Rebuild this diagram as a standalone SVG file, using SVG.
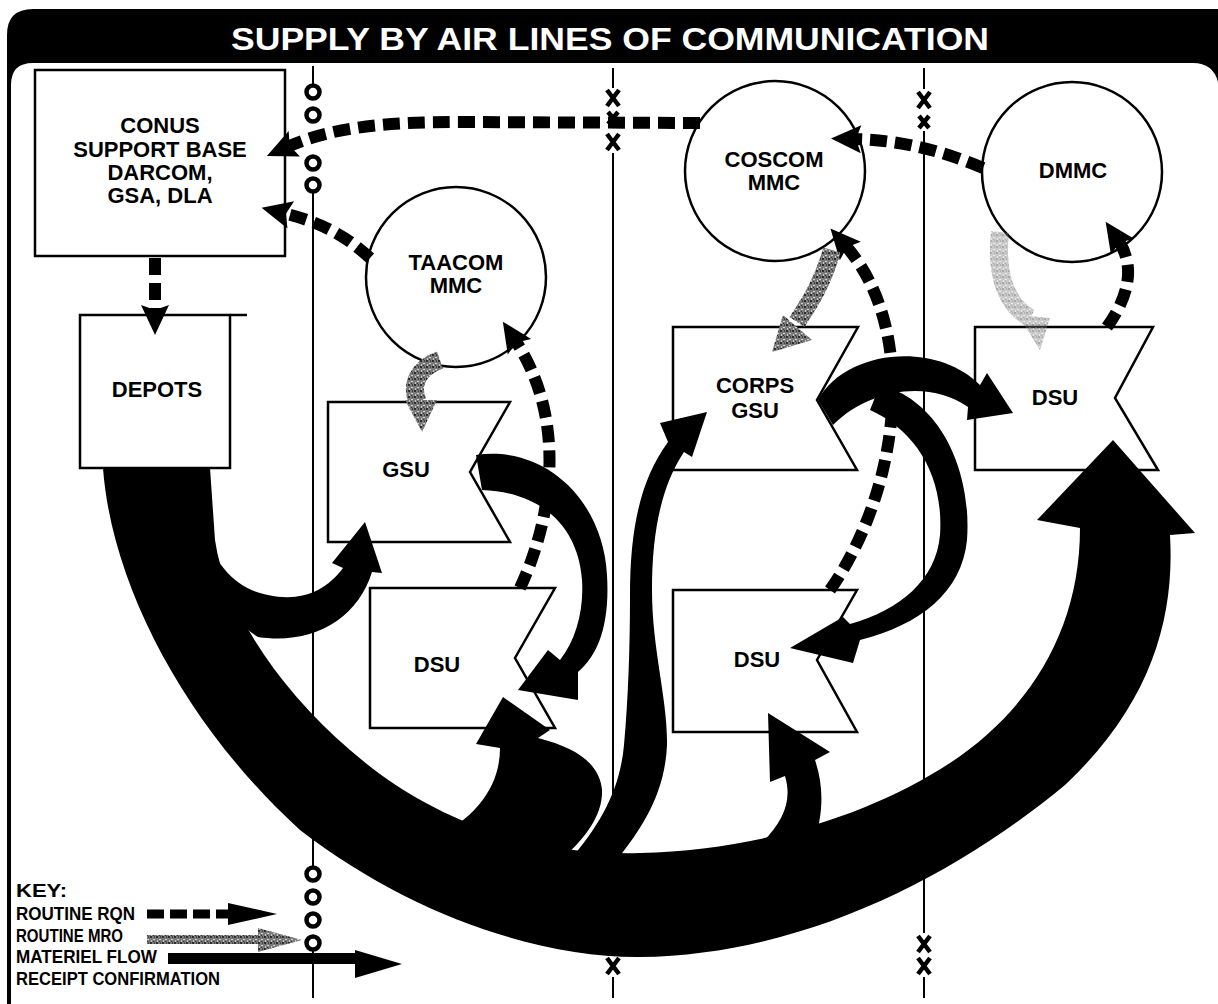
<svg xmlns="http://www.w3.org/2000/svg" width="1218" height="1004" viewBox="0 0 1218 1004">
<style>
.node rect,.node polygon,.node circle{fill:#fff;stroke:#000;stroke-width:2.5}
.lbl{font-family:"Liberation Sans",Arial,sans-serif;font-weight:bold;font-size:22px;text-anchor:middle;fill:#000}
.key{font-family:"Liberation Sans Narrow","Liberation Sans",Arial,sans-serif;font-weight:bold;font-size:18px;fill:#000}
.sep{stroke:#000;stroke-width:2;fill:none}
.ring{fill:#fff;stroke:#000;stroke-width:4.5}
.xm{stroke:#000;stroke-width:4.5;fill:none}
.rqn{fill:none;stroke:#000;stroke-width:12;stroke-dasharray:17 8}
.mro{fill:none;stroke:url(#grain);stroke-width:18}
.flow{fill:#000}
</style>
<defs>
<pattern id="grain" width="6" height="6" patternUnits="userSpaceOnUse">
<rect width="6" height="6" fill="#7a7a7a"/>
<rect x="0" y="0" width="2" height="2" fill="#2e2e2e"/>
<rect x="3" y="3" width="2" height="1" fill="#d0d0d0"/>
<rect x="4" y="0" width="1" height="2" fill="#444"/>
<rect x="1" y="4" width="1" height="2" fill="#c4c4c4"/>
<rect x="3" y="5" width="1" height="1" fill="#333"/>
</pattern>
<marker id="ah" markerUnits="userSpaceOnUse" markerWidth="40" markerHeight="32" refX="8" refY="14" orient="auto" overflow="visible">
<path d="M0,0 L30,14 L0,28 L5,14 Z" fill="#000"/>
</marker>
<path id="xbig" d="M-6,-8 L6,8 M6,-8 L-6,8"/>
<path id="xsmall" d="M-5,-6 L5,6 M5,-6 L-5,6"/>
</defs>

<!-- frame -->
<path d="M7 35 Q7 9 33 9 L1218 9 L1218 1004 L7 1004 Z" fill="#000"/>
<path d="M11 85 Q11 63 33 63 L1193 63 Q1213 63 1218 82 L1218 1004 L11 1004 Z" fill="#fff"/>
<text x="610" y="50" font-family="Liberation Sans,Arial,sans-serif" font-weight="bold" font-size="31" fill="#fff" text-anchor="middle" textLength="758" lengthAdjust="spacingAndGlyphs">SUPPLY BY AIR LINES OF COMMUNICATION</text>

<!-- boundaries -->
<g id="boundaries">
<path class="sep" d="M313 66 V84 M313 193 V866 M313 950 V998"/>
<circle class="ring" cx="313" cy="92" r="6.5"/>
<circle class="ring" cx="313" cy="115" r="6.5"/>
<circle class="ring" cx="313" cy="163" r="6.5"/>
<circle class="ring" cx="313" cy="185" r="6.5"/>
<circle class="ring" cx="313" cy="874" r="6.5"/>
<circle class="ring" cx="313" cy="897" r="6.5"/>
<circle class="ring" cx="313" cy="920" r="6.5"/>
<circle class="ring" cx="313" cy="943" r="6.5"/>
<path class="sep" d="M613 68 V88 M613 153 V955 M613 977 V998"/>
<use href="#xbig" class="xm" x="613" y="98"/>
<use href="#xsmall" class="xm" x="613" y="118"/>
<use href="#xbig" class="xm" x="613" y="142"/>
<use href="#xbig" class="xm" x="613" y="966"/>
<path class="sep" d="M924 68 V89 M924 131 V933 M924 977 V998"/>
<use href="#xbig" class="xm" x="924" y="100"/>
<use href="#xsmall" class="xm" x="924" y="122"/>
<use href="#xbig" class="xm" x="924" y="944"/>
<use href="#xbig" class="xm" x="924" y="966"/>
</g>

<!-- nodes -->
<g id="conus" class="node">
<rect x="35" y="70" width="250" height="186"/>
<text class="lbl" x="160" y="133">CONUS</text>
<text class="lbl" x="160" y="157">SUPPORT BASE</text>
<text class="lbl" x="160" y="180">DARCOM,</text>
<text class="lbl" x="160" y="203">GSA, DLA</text>
</g>
<g id="depots" class="node">
<rect x="80" y="315" width="150" height="153"/>
<path d="M230 315 H247" stroke="#000" stroke-width="2.5"/>
<text class="lbl" x="157" y="397">DEPOTS</text>
</g>
<g id="taacom" class="node">
<circle cx="456" cy="277" r="90"/>
<text class="lbl" x="456" y="270">TAACOM</text>
<text class="lbl" x="456" y="293">MMC</text>
</g>
<g id="coscom" class="node">
<circle cx="775" cy="171" r="90"/>
<text class="lbl" x="774" y="167">COSCOM</text>
<text class="lbl" x="774" y="190">MMC</text>
</g>
<g id="dmmc" class="node">
<circle cx="1072" cy="172" r="90"/>
<text class="lbl" x="1073" y="178">DMMC</text>
</g>
<g id="gsu" class="node">
<polygon points="328,402 510,402 470,472 510,542 328,542"/>
<text class="lbl" x="406" y="477">GSU</text>
</g>
<g id="dsu-left" class="node">
<polygon points="370,588 555,588 515,658 555,728 370,728"/>
<text class="lbl" x="437" y="672">DSU</text>
</g>
<g id="corps-gsu" class="node">
<polygon points="673,327 858,327 817,400 857,470 673,470"/>
<text class="lbl" x="755" y="393">CORPS</text>
<text class="lbl" x="755" y="418">GSU</text>
</g>
<g id="dsu-mid" class="node">
<polygon points="673,590 857,590 817,660 857,732 673,732"/>
<text class="lbl" x="757" y="667">DSU</text>
</g>
<g id="dsu-right" class="node">
<polygon points="975,327 1153,327 1115,398 1158,470 975,470"/>
<text class="lbl" x="1055" y="405">DSU</text>
</g>

<!-- connectors -->
<g id="connectors">
<!-- materiel flow -->
<path class="flow" d="M103 468 C112 590 190 730 300 830 C410 915 540 958 640 957 C800 955 950 880 1065 785 C1150 705 1175 620 1170 535 L1195 533 L1113 440 L1037 520 L1080 528 C1080 630 1030 710 950 763 C870 815 760 850 640 853 C530 856 430 820 350 750 C280 690 225 610 215 540 L210 468 Z"/>
<path class="flow" d="M200 520 C215 570 240 590 268 595 C300 602 325 592 343 568 L332 563 L365 522 L382 573 L372 572 C357 620 312 645 258 637 C230 620 210 580 200 540 Z"/>
<path class="flow" d="M476 455 C545 445 603 500 607 575 C610 625 598 655 578 672 L578 700 L518 690 L548 650 L560 660 C576 640 584 610 582 580 C578 525 540 492 482 490 Z"/>
<path class="flow" d="M430 840 C478 818 500 785 500 748 L476 744 L503 697 L550 730 L538 738 C578 748 600 765 602 790 C603 815 585 838 565 856 Z"/>
<path class="flow" d="M570 860 C600 825 620 790 624 745 C628 700 630 650 630 595 C630 530 640 480 668 442 L660 423 L707 412 L692 457 L684 452 C662 485 652 530 652 590 C652 650 668 700 667 745 C665 795 640 830 620 856 Z"/>
<path class="flow" d="M760 845 C785 820 792 800 785 776 L770 782 L768 713 L830 752 L815 760 C825 790 822 815 815 840 Z"/>
<path class="flow" d="M818 400 C845 350 935 340 980 385 L987 373 L1013 413 L967 420 L968 407 C930 380 870 388 833 425 Z"/>
<path class="flow" d="M880 385 C940 400 972 470 967 540 C962 592 920 625 860 640 L853 663 L790 648 L843 617 L850 624 C900 610 936 580 940 535 C944 475 915 430 870 410 Z"/>
<!-- routine RQN -->
<path class="rqn" marker-end="url(#ah)" d="M700 123 L460 122 C380 122 330 128 287 147"/>
<path class="rqn" marker-end="url(#ah)" d="M370 258 C345 235 320 222 283 213"/>
<path class="rqn" marker-end="url(#ah)" d="M155 258 L155 313"/>
<path class="rqn" marker-end="url(#ah)" d="M983 168 C940 150 900 140 853 139"/>
<path class="rqn" marker-end="url(#ah)" d="M1107 327 C1130 295 1135 265 1118 240"/>
<path class="rqn" marker-end="url(#ah)" d="M520 588 C552 520 568 420 515 340"/>
<path class="rqn" marker-end="url(#ah)" d="M830 590 C900 490 920 330 845 245"/>
<!-- routine MRO -->
<path class="mro" d="M440 360 C418 368 410 385 418 402"/>
<polygon points="405,400 437,400 422,432" fill="url(#grain)"/>
<path class="mro" stroke-width="26" d="M832 250 C822 285 808 305 797 322"/>
<polygon points="783,315 812,340 772,352" fill="url(#grain)"/>
<g opacity="0.4">
<path class="mro" stroke-width="20" d="M1000 232 C995 280 1008 305 1030 318"/>
<polygon points="1018,315 1050,318 1040,350" fill="url(#grain)"/>
</g>
</g>

<!-- key -->
<g id="key">
<text class="key" x="16" y="897" textLength="51" lengthAdjust="spacingAndGlyphs">KEY:</text>
<text class="key" x="16" y="920" textLength="119" lengthAdjust="spacingAndGlyphs">ROUTINE RQN</text>
<text class="key" x="16" y="942" textLength="107" lengthAdjust="spacingAndGlyphs">ROUTINE MRO</text>
<text class="key" x="16" y="963" textLength="141" lengthAdjust="spacingAndGlyphs">MATERIEL FLOW</text>
<text class="key" x="16" y="985" textLength="204" lengthAdjust="spacingAndGlyphs">RECEIPT CONFIRMATION</text>
<path d="M147 914 H232" stroke="#000" stroke-width="9" stroke-dasharray="17 6" fill="none"/>
<polygon points="228,903 277,914 228,925" fill="#000"/>
<rect x="147" y="935" width="112" height="9" fill="url(#grain)"/>
<polygon points="258,928 302,940 258,952" fill="url(#grain)"/>
<rect x="168" y="953" width="189" height="11" fill="#000"/>
<polygon points="355,950 402,964 355,978" fill="#000"/>
</g>
</svg>
